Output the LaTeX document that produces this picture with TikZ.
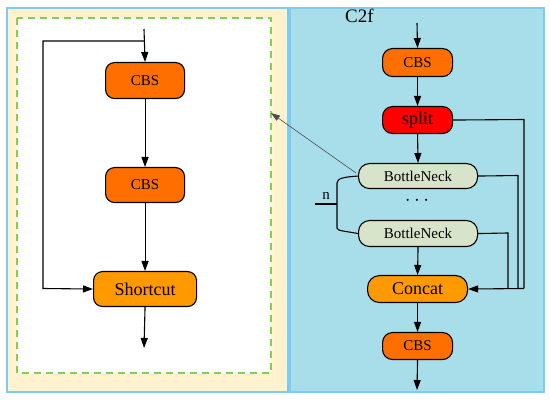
\documentclass[tikz,border=0pt]{standalone}
\usepackage{fontspec}
\setmainfont{Liberation Serif}
\usetikzlibrary{arrows.meta}
\definecolor{beige}{HTML}{FFF2CC}
\definecolor{panelblue}{HTML}{A8DEEA}
\definecolor{edgeblue}{HTML}{7CCCF2}
\definecolor{cbsorange}{HTML}{FF6F00}
\definecolor{catorange}{HTML}{FF9900}
\definecolor{splitred}{HTML}{FF0000}
\definecolor{bngreen}{HTML}{D8E4C9}
\definecolor{dashgreen}{HTML}{7DD34B}
\tikzset{
  blk/.style={draw=black, line width=1.1pt, rounded corners=#1, inner sep=0pt, anchor=north west},
  arr/.style={-{Triangle[length=10pt,width=7pt]}, line width=1.1pt},
  ln/.style={line width=1.1pt}
}
\begin{document}
\begin{tikzpicture}[x=1pt,y=-1pt]
\useasboundingbox (0,0) rectangle (550,401);
% panels
\fill[beige,draw=edgeblue,line width=1.5pt] (7,8) rectangle (288,392);
\fill[panelblue,draw=edgeblue,line width=1.5pt] (290,8) rectangle (544,392);
\draw[dashgreen,fill=white,line width=1.2pt,dash pattern=on 7pt off 5pt] (17,18) rectangle (271,373);
% left nodes
\node[blk=9pt, fill=cbsorange, minimum width=79pt, minimum height=36pt, font=\fontsize{15}{17}\selectfont] (c1) at (105,62) {CBS};
\node[blk=9pt, fill=cbsorange, minimum width=79pt, minimum height=35pt, font=\fontsize{15}{17}\selectfont] (c2) at (105,167) {CBS};
\node[blk=9pt, fill=catorange, minimum width=103pt, minimum height=35pt, font=\fontsize{18}{20}\selectfont] (sc) at (93,271) {Shortcut};
\coordinate (ltop) at (144,29);
\coordinate (lbr) at (144,41);
\coordinate (lbot) at (144,348);
\draw[arr] (ltop) -- (c1.north);
\draw[arr] (c1.south) -- (c2.north);
\draw[arr] (c2.south) -- (sc.north);
\draw[arr] (sc.south) -- (lbot);
\draw[arr] (lbr) -- (43,41) -- (43,288.5) -- (sc.west);
% right nodes
\node[anchor=west, inner sep=0pt, font=\fontsize{19}{21}\selectfont] (lbl) at (345,16) {C2f};
\node[blk=10pt, fill=cbsorange, minimum width=70pt, minimum height=28pt, font=\fontsize{15}{17}\selectfont] (r1) at (382,48) {CBS};
\node[blk=10pt, fill=splitred, minimum width=70pt, minimum height=27pt, font=\fontsize{18}{20}\selectfont] (sp) at (382,106) {split};
\node[blk=11pt, fill=bngreen, minimum width=119pt, minimum height=25pt, font=\fontsize{15}{17}\selectfont] (b1) at (358,163) {BottleNeck};
\node[font=\fontsize{20}{22}\selectfont] (dots) at (417,201) {$\cdots$};
\node[blk=11pt, fill=bngreen, minimum width=119pt, minimum height=26pt, font=\fontsize{15}{17}\selectfont] (b2) at (358,220) {BottleNeck};
\node[blk=12pt, fill=catorange, minimum width=100pt, minimum height=27pt, font=\fontsize{18}{20}\selectfont] (ct) at (367,275) {Concat};
\node[blk=10pt, fill=cbsorange, minimum width=70pt, minimum height=27pt, font=\fontsize{15}{17}\selectfont] (r2) at (382,332) {CBS};
\coordinate (rtop) at (417,23);
\coordinate (rbot) at (417,390);
\draw[arr] (rtop) -- (r1.north);
\draw[arr] (r1.south) -- (sp.north);
\draw[arr] (sp.south) -- (b1.north);
\draw[arr] (b2.south) -- (ct.north);
\draw[arr] (ct.south) -- (r2.north);
\draw[arr] (r2.south) -- (rbot);
\draw[ln] (sp.east) -- (524,119.5) -- (524,288.5);
\draw[ln] (b1.east) -- (518,175.5) -- (518,288.5);
\draw[ln] (b2.east) -- (508,233) -- (508,288.5);
\draw[arr] (524,288.5) -- (ct.east);
% brace
\draw[ln] (b1.west) .. controls (345,177) and (337,178) .. (337,183) -- (337,228) .. controls (337,231) and (345,231) .. (b2.west);
\draw[ln] (315,204) -- (337,204);
\node[font=\fontsize{15}{17}\selectfont] (n) at (326,196) {n};
% pointer
\coordinate (tip) at (271,113);
\draw[gray!60!black, line width=0.6pt, -{Triangle[length=9pt,width=6pt]}] (356,173) -- (tip);
\end{tikzpicture}
\end{document}
